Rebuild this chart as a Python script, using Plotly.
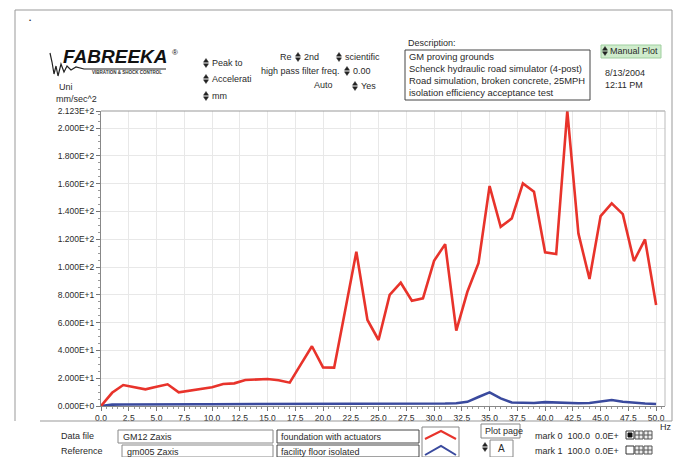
import plotly.graph_objects as go

# ---------------- data ----------------
freq_hz = list(range(0, 51))
foundation_with_actuators = [
    0.0, 9.5, 15.1, 13.5, 12.0, 13.8, 15.6, 9.8, 11.0, 12.0,
    13.5, 15.8, 16.3, 18.7, 19.0, 19.4, 18.5, 16.8, 30.0, 43.0,
    27.8, 27.6, 69.0, 111.0, 61.9, 47.5, 79.9, 88.7, 75.8, 77.5,
    104.5, 116.5, 54.2, 82.2, 102.7, 158.3, 129.0, 135.0, 160.2, 154.2,
    110.6, 109.4, 212.3, 124.2, 91.4, 136.7, 145.8, 138.1, 104.3, 119.9,
    72.7,
]
facility_floor_isolated = [
    0.0, 1.0, 1.1, 1.2, 1.2, 1.2, 1.3, 1.2, 1.2, 1.3,
    1.3, 1.3, 1.3, 1.4, 1.4, 1.4, 1.4, 1.4, 1.4, 1.4,
    1.4, 1.4, 1.4, 1.5, 1.5, 1.5, 1.5, 1.5, 1.6, 1.6,
    1.7, 1.8, 2.0, 3.0, 6.5, 9.8, 5.5, 2.5, 2.3, 2.2,
    2.8, 2.5, 2.2, 2.0, 2.2, 3.5, 4.3, 3.0, 2.2, 1.8,
    1.4,
]
y_tick_values = [0, 20, 40, 60, 80, 100, 120, 140, 160, 180, 200, 212.3]
x_tick_values = [i * 2.5 for i in range(21)]
x_tick_labels = ["%.1f" % v for v in x_tick_values]


def sci(v):
    if v == 0:
        return "0.000E+0"
    e = 0
    m = v
    while m >= 10:
        m /= 10
        e += 1
    return "%.3fE+%d" % (m, e)


y_tick_labels = [sci(v) for v in y_tick_values]

RED = "#e8332b"
BLUE = "#3a4a9e"
FONT = "Liberation Sans, Arial, sans-serif"
TXT = "#2a2a2a"

fig = go.Figure()
fig.add_trace(go.Scatter(x=freq_hz, y=facility_floor_isolated, mode="lines",
                         line=dict(color=BLUE, width=2.6), hoverinfo="skip"))
fig.add_trace(go.Scatter(x=freq_hz, y=foundation_with_actuators, mode="lines",
                         line=dict(color=RED, width=2.6), hoverinfo="skip"))

# plot-area pixel frame
L, R, T, B = 101, 665, 111, 406


def X(px):
    return (px - L) / (R - L)


def Y(py):
    return (B - py) / (B - T)


shapes = []
annots = []


def line(x0, y0, x1, y1, color="#777", w=1):
    shapes.append(dict(type="line", xref="paper", yref="paper", x0=X(x0), y0=Y(y0),
                       x1=X(x1), y1=Y(y1), line=dict(color=color, width=w)))


def rect(x0, y0, x1, y1, color="#555", w=1, fill="rgba(0,0,0,0)"):
    shapes.append(dict(type="rect", xref="paper", yref="paper", x0=X(x0), y0=Y(y0),
                       x1=X(x1), y1=Y(y1), line=dict(color=color, width=w), fillcolor=fill))


def text(px, py, s, size=9, anchor="left", color=TXT, bold=False, italic=False, family=FONT):
    if bold:
        s = "<b>" + s + "</b>"
    if italic:
        s = "<i>" + s + "</i>"
    annots.append(dict(xref="paper", yref="paper", x=X(px), y=Y(py), text=s, showarrow=False,
                       xanchor=anchor, yanchor="middle", font=dict(size=size, color=color, family=family)))


def spinner(cx, cy):
    def P(px, py):
        return "%f %f" % (X(px), Y(py))
    up = "M %s L %s L %s Z" % (P(cx - 2.5, cy - 0.8), P(cx + 2.5, cy - 0.8), P(cx, cy - 4.5))
    dn = "M %s L %s L %s Z" % (P(cx - 2.5, cy + 0.8), P(cx + 2.5, cy + 0.8), P(cx, cy + 4.5))
    for p in (up, dn):
        shapes.append(dict(type="path", xref="paper", yref="paper", path=p,
                           fillcolor="#222", line=dict(color="#222", width=0.5)))


# outer frame
line(15, 10, 672, 10, "#999")
line(15, 10, 15, 421, "#999")
line(672, 10, 672, 421, "#999")
line(40, 421, 672, 421, "#999")
text(27, 20, "•", size=6)

# plot box top/right
line(L, T, R, T, "#999")
line(R, T, R, B, "#bbb")

# logo
squig = "M %f %f" % (X(50), Y(53))
pts = [(52, 62), (54, 74), (56, 66), (58, 76), (61, 64), (64, 72), (67, 66), (71, 70), (76, 67), (84, 69), (166, 69)]
for a, b in pts:
    squig += " L %f %f" % (X(a), Y(b))
shapes.append(dict(type="path", xref="paper", yref="paper", path=squig,
                   line=dict(color="#222", width=1.2)))
text(61, 56, "FABREEKA", size=19, bold=True, italic=True, color="#111")
text(170, 52, "®", size=8, color="#111")
text(90, 72.5, "VIBRATION &amp; SHOCK CONTROL", size=4.5, bold=True, color="#333")
text(57, 87, "Uni", size=9)
text(54, 99, "mm/sec^2", size=9)

# controls
spinner(206, 63); text(210, 63, "Peak to", size=9)
spinner(206, 79); text(210, 79, "Accelerati", size=9)
spinner(206, 96); text(210, 96, "mm", size=9)
text(294, 57, "Re", size=9, anchor="right")
spinner(298, 57); text(302, 57, "2nd", size=9)
spinner(339, 57); text(343, 57, "scientific", size=9)
text(342, 71, "high pass filter freq.", size=9, anchor="right")
spinner(347, 71); text(351, 71, "0.00", size=9)
text(335, 85, "Auto", size=9, anchor="right")
spinner(355, 86); text(359, 86, "Yes", size=9)

# description
text(406, 43, "Description:", size=9)
rect(405, 50, 590, 100, "#444")
for i, s in enumerate(["GM proving grounds", "Schenck hydraulic road simulator (4-post)",
                       "Road simulation, broken concrete, 25MPH", "isolation efficiency acceptance test"]):
    text(407, 56.5 + i * 12, s, size=9.4)

rect(601, 45, 661, 58, "#9fcf9f", fill="#cfeccc")
spinner(605, 51); text(608, 51.5, "Manual Plot", size=9)
text(603, 73, "8/13/2004", size=9)
text(603, 84.5, "12:11 PM", size=9)

# bottom panel
text(59, 436, "Data file", size=9)
text(59, 451, "Reference", size=9)
rect(118, 430, 273, 443, "#888")
text(121, 436.5, "GM12 Zaxis", size=9)
rect(122, 445, 273, 457, "#888")
text(125, 451.5, "gm005 Zaxis", size=9)
rect(277, 430, 419, 443, "#444")
text(279, 436.5, "foundation with actuators", size=9)
rect(277, 445, 419, 457, "#444")
text(279, 451.5, "facility floor isolated", size=9)
rect(422, 427, 459, 457, "#888")
zz_r = "M %f %f L %f %f L %f %f" % (X(425), Y(439), X(441), Y(431), X(456), Y(439))
zz_b = "M %f %f L %f %f L %f %f" % (X(425), Y(455), X(441), Y(446), X(456), Y(455))
shapes.append(dict(type="path", xref="paper", yref="paper", path=zz_r, line=dict(color=RED, width=2)))
shapes.append(dict(type="path", xref="paper", yref="paper", path=zz_b, line=dict(color=BLUE, width=2)))
rect(481, 424, 520, 438, "#888")
text(483, 431, "Plot page", size=9)
spinner(485, 447)
rect(490, 440, 513, 457, "#888")
text(501.5, 448, "A", size=10, anchor="center")
text(533, 436, "mark 0  100.0  0.0E+", size=9)
text(533, 451, "mark 1  100.0  0.0E+", size=9)
# small icons
for oy, filled in ((431, True), (446, False)):
    rect(626, oy, 634, oy + 8, "#333", fill="#fff")
    if filled:
        rect(628, oy + 2, 632, oy + 6, "#111", fill="#111")
    for ox in (635, 644):
        rect(ox, oy, ox + 8, oy + 8, "#555", fill="#eee")
        line(ox + 4, oy, ox + 4, oy + 8, "#555")
        line(ox, oy + 4, ox + 8, oy + 4, "#555")
text(658, 427, "Hz", size=9)

fig.update_layout(
    width=685, height=457, autosize=False,
    margin=dict(l=L, r=685 - R, t=T, b=457 - B, pad=0),
    paper_bgcolor="white", plot_bgcolor="white",
    showlegend=False,
    shapes=shapes, annotations=annots,
    font=dict(family=FONT, size=9, color=TXT),
    xaxis=dict(range=[0, 50.8], tickmode="array", tickvals=x_tick_values, ticktext=x_tick_labels,
               showgrid=True, gridcolor="#e8e8e8", gridwidth=1, zeroline=False,
               showline=True, linecolor="#888", ticks="outside", ticklen=4, tickcolor="#777",
               tickfont=dict(size=8.5, color=TXT, family=FONT),
               minor=dict(dtick=0.5, tick0=0, ticks="outside", ticklen=2, tickcolor="#999", showgrid=False)),
    yaxis=dict(range=[0, 212.3], tickmode="array", tickvals=y_tick_values, ticktext=y_tick_labels,
               showgrid=True, gridcolor="#e8e8e8", gridwidth=1, zeroline=False,
               showline=True, linecolor="#888", ticks="outside", ticklen=4, tickcolor="#777",
               tickfont=dict(size=8.5, color=TXT, family=FONT),
               minor=dict(dtick=5, tick0=0, ticks="outside", ticklen=2, tickcolor="#999", showgrid=False)),
)

fig.write_html("out.html", config={"displayModeBar": False},
               post_script="document.body.style.margin='0';document.body.style.overflow='hidden';")
